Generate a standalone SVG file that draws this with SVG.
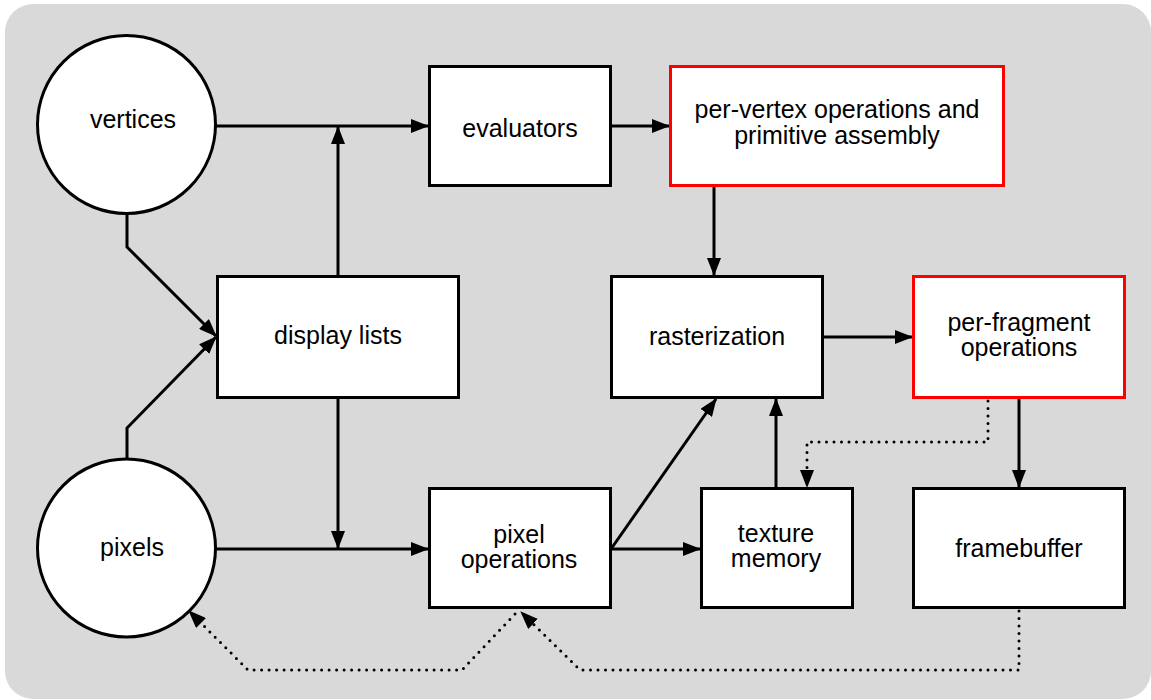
<svg xmlns="http://www.w3.org/2000/svg" width="1151" height="700" viewBox="0 0 1151 700">
  <style>
    .node { fill: #ffffff; stroke: #000000; stroke-width: 3; }
    .hot { fill: #ffffff; stroke: #ff0000; stroke-width: 3; }
    .label { font-family: "Liberation Sans", Arial, sans-serif; font-size: 25px; fill: #000000; text-anchor: middle; }
    .wire { fill: none; stroke: #000000; stroke-width: 3; marker-end: url(#arrow); }
    .dots { fill: none; stroke: #000000; stroke-width: 3; stroke-dasharray: 0 7.5; stroke-linecap: round; marker-end: url(#arrow); }
  </style>
  <defs>
    <marker id="arrow" markerUnits="userSpaceOnUse" markerWidth="18" markerHeight="14" viewBox="0 0 18 14" refX="17" refY="7" orient="auto">
      <path d="M0,0 L18,7 L0,14 Z" fill="#000000"/>
    </marker>
  </defs>

  <!-- panel -->
  <rect x="5" y="4" width="1146" height="695" rx="28" ry="28" fill="#d9d9d9"/>

  <!-- connectors -->
  <g id="connectors">
    <path class="wire" d="M216,126 H428"/>
    <path class="wire" d="M338,276 V127"/>
    <path class="wire" d="M611,126 H669"/>
    <path class="wire" d="M714,186 V275"/>
    <path class="wire" d="M823,337 H912"/>
    <path class="wire" d="M1019,398 V487"/>
    <path class="wire" d="M127,213 V247 L216,336"/>
    <path class="wire" d="M127,459 V428 L216,337"/>
    <path class="wire" d="M338,398 V548"/>
    <path class="wire" d="M216,549 H428"/>
    <path class="wire" d="M611,549 H700"/>
    <path class="wire" d="M611,549 L716,399"/>
    <path class="wire" d="M776,488 V399"/>
    <path class="dots" d="M988,401 V442 H807 V487"/>
    <path class="dots" d="M1019,611 V670 H580 L521,612"/>
    <path class="dots" d="M515,614 L462,670 H248 L189,611"/>
  </g>

  <!-- nodes -->
  <g id="vertices">
    <circle class="node" cx="126.5" cy="124.5" r="89"/>
    <text class="label" x="133" y="128">vertices</text>
  </g>
  <g id="pixels">
    <circle class="node" cx="126.5" cy="548" r="89"/>
    <text class="label" x="132" y="556">pixels</text>
  </g>
  <g id="evaluators">
    <rect class="node" x="429.5" y="66.5" width="181" height="119"/>
    <text class="label" x="520" y="137">evaluators</text>
  </g>
  <g id="per-vertex">
    <rect class="hot" x="670.5" y="66.5" width="333" height="119"/>
    <text class="label" x="837" y="118">per-vertex operations and</text>
    <text class="label" x="837" y="144">primitive assembly</text>
  </g>
  <g id="display-lists">
    <rect class="node" x="217.5" y="276.5" width="241" height="121"/>
    <text class="label" x="338" y="344">display lists</text>
  </g>
  <g id="rasterization">
    <rect class="node" x="611.5" y="276.5" width="211" height="121"/>
    <text class="label" x="717" y="345">rasterization</text>
  </g>
  <g id="per-fragment">
    <rect class="hot" x="913.5" y="276.5" width="211" height="121"/>
    <text class="label" x="1019" y="331">per-fragment</text>
    <text class="label" x="1019" y="356">operations</text>
  </g>
  <g id="pixel-operations">
    <rect class="node" x="429.5" y="488.5" width="181" height="119"/>
    <text class="label" x="519" y="543">pixel</text>
    <text class="label" x="519" y="568">operations</text>
  </g>
  <g id="texture-memory">
    <rect class="node" x="701.5" y="488.5" width="151" height="119"/>
    <text class="label" x="776" y="542">texture</text>
    <text class="label" x="776" y="567">memory</text>
  </g>
  <g id="framebuffer">
    <rect class="node" x="913.5" y="488.5" width="211" height="119"/>
    <text class="label" x="1019" y="557">framebuffer</text>
  </g>
</svg>
